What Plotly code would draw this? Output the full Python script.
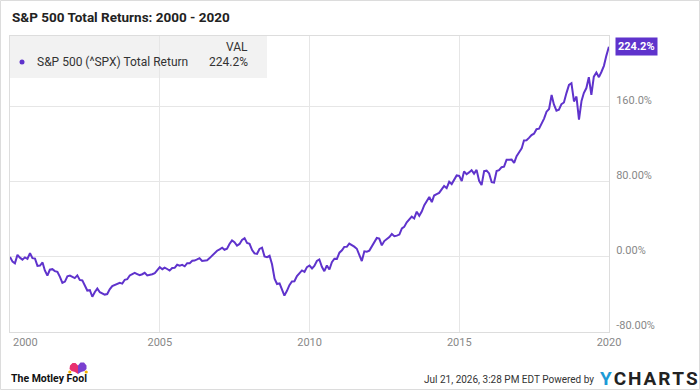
import pandas as pd
import plotly.graph_objects as go

# ---------------- data (cumulative total return, %; month ends) ----------------
START = "1999-12-31"
r1999 = [0.0]
r2000 = [-5.0, -6.8, 2.3, -0.7, -2.8, -0.4, -1.9, 4.1, -1.3, -1.7, -9.5, -9.1]
r2001 = [-5.8, -14.4, -19.8, -13.6, -13.0, -15.1, -15.9, -21.2, -27.6, -26.2, -20.6, -19.9]
r2002 = [-21.0, -22.5, -19.6, -24.4, -25.0, -30.3, -35.8, -35.4, -42.4, -37.3, -33.7, -37.6]
r2003 = [-39.2, -40.1, -39.5, -34.5, -31.1, -30.2, -29.0, -27.6, -28.4, -24.3, -23.7, -19.7]
r2004 = [-18.2, -17.0, -18.3, -19.5, -18.4, -16.9, -19.6, -19.3, -18.4, -17.2, -13.9, -10.9]
r2005 = [-13.0, -11.3, -12.8, -14.5, -11.8, -11.6, -8.3, -9.2, -8.4, -9.9, -6.6, -6.6]
r2006 = [-4.0, -3.8, -2.6, -1.3, -4.2, -4.0, -3.4, -1.2, 1.4, 4.8, 6.7, 8.2]
r2007 = [9.9, 7.7, 8.9, 13.8, 17.7, 15.8, 12.2, 13.9, 18.1, 20.1, 14.9, 14.1]
r2008 = [7.4, 3.8, 3.4, 8.6, 9.9, 0.7, -0.1, 1.3, -7.7, -23.2, -28.8, -28.1]
r2009 = [-34.1, -41.2, -36.1, -30.0, -26.1, -25.9, -20.3, -17.4, -14.3, -15.8, -10.8, -9.1]
r2010 = [-12.3, -9.6, -4.2, -2.6, -10.4, -15.1, -9.1, -13.3, -5.5, -1.9, -2.0, 4.6]
r2011 = [7.2, 10.8, 10.9, 14.2, 12.9, 11.0, 8.8, 2.8, -4.4, 6.1, 5.7, 6.8]
r2012 = [11.7, 16.5, 20.3, 19.6, 12.4, 17.0, 18.7, 21.3, 24.5, 22.2, 22.8, 23.9]
r2013 = [30.4, 32.1, 37.1, 39.8, 43.0, 41.1, 48.3, 43.9, 48.5, 55.3, 60.0, 64.0]
r2014 = [58.5, 65.6, 67.0, 68.4, 72.2, 75.8, 73.4, 80.2, 77.8, 82.2, 87.0, 86.5]
r2015 = [81.0, 91.3, 88.3, 90.2, 92.6, 88.9, 92.9, 81.2, 76.7, 91.7, 92.1, 89.1]
r2016 = [79.8, 79.4, 91.6, 92.5, 95.8, 96.3, 103.7, 103.8, 103.9, 100.3, 107.5, 111.7]
r2017 = [115.8, 124.3, 124.5, 127.0, 130.0, 131.5, 136.3, 136.8, 141.8, 147.6, 155.0, 157.9]
r2018 = [172.8, 162.7, 156.0, 157.1, 163.1, 164.8, 174.8, 183.6, 185.3, 165.9, 171.1, 146.6]
r2019 = [166.5, 174.9, 180.2, 191.8, 173.0, 192.3, 196.7, 191.8, 197.3, 203.9, 214.8, 224.2]

values = (r1999 + r2000 + r2001 + r2002 + r2003 + r2004 + r2005 + r2006 + r2007
          + r2008 + r2009 + r2010 + r2011 + r2012 + r2013 + r2014 + r2015
          + r2016 + r2017 + r2018 + r2019)
dates = pd.date_range(START, periods=len(values), freq="ME")

x_tick_vals = ["2005-01-01", "2010-01-01", "2015-01-01", "2020-01-01"]
x_tick_text = ["2005", "2010", "2015", "2020"]
y_tick_vals = [-80, 0, 80, 160]
y_tick_text = ["-80.00%", "0.00%", "80.00%", "160.0%"]

series_name = "S&P 500 (^SPX) Total Return"
title_text = "S&P 500 Total Returns: 2000 - 2020"
last_label = f"{values[-1]:.1f}%"

# ---------------- style / layout ----------------
W, H = 700, 392
PL, PR, PT, PB = 10, 609, 36, 332
PURPLE = "#5f33cc"
FONT = "Roboto"


def fx(px):
    return (px - PL) / (PR - PL)


def fy(py):
    return (PB - py) / (PB - PT)


fig = go.Figure()
fig.add_trace(go.Scatter(x=dates, y=values, mode="lines",
                         line=dict(color=PURPLE, width=2), name=series_name,
                         hoverinfo="skip"))

shapes = []
# outer border
shapes.append(dict(type="rect", xref="paper", yref="paper",
                   x0=fx(0.5), x1=fx(W - 0.5), y0=fy(389.5), y1=fy(0.5),
                   line=dict(color="#dcdcdc", width=1), fillcolor="rgba(0,0,0,0)",
                   layer="above"))
# legend box
shapes.append(dict(type="rect", xref="paper", yref="paper",
                   x0=fx(PL), x1=fx(267), y0=fy(78), y1=fy(PT),
                   line=dict(width=0), fillcolor="rgba(238,238,238,0.75)",
                   layer="between"))
# legend dot
shapes.append(dict(type="circle", xref="paper", yref="paper",
                   x0=fx(19.5), x1=fx(24.5), y0=fy(64.5), y1=fy(59.5),
                   line=dict(width=0), fillcolor=PURPLE, layer="above"))
# tag arrow at last value
shapes.append(dict(type="path", xref="x", yref="y",
                   xsizemode="pixel", ysizemode="pixel",
                   xanchor=dates[-1], yanchor=values[-1],
                   path="M 0,0 L 7,7 L 7,-7 Z",
                   line=dict(width=0), fillcolor=PURPLE, layer="above"))


def px_path(points):
    return "M " + " L ".join(f"{fx(a)},{fy(b)}" for a, b in points) + " Z"


# Motley Fool jester hat (decorative)
shapes.append(dict(type="path", xref="paper", yref="paper",
                   path=px_path([(78, 374), (75, 372), (71.5, 371), (69.5, 369),
                                 (70, 365.5), (72.5, 363), (75.5, 363), (78, 365.5)]),
                   line=dict(width=0), fillcolor="#e8306f", layer="above"))
shapes.append(dict(type="path", xref="paper", yref="paper",
                   path=px_path([(78, 374), (78, 365.5), (80.5, 362.5), (84, 362.5),
                                 (86.5, 365.5), (86.5, 369), (84.5, 371), (81, 372)]),
                   line=dict(width=0), fillcolor="#7a3fd0", layer="above"))
for cx in (69.8, 86.2):
    shapes.append(dict(type="circle", xref="paper", yref="paper",
                       x0=fx(cx - 1.6), x1=fx(cx + 1.6), y0=fy(373.6), y1=fy(370.4),
                       line=dict(width=0), fillcolor="#f4b400", layer="above"))

ann = []
ann.append(dict(xref="paper", yref="paper", x=fx(10), y=fy(17),
                xanchor="left", yanchor="middle", showarrow=False,
                text=f"<b>{title_text}</b>",
                font=dict(family=FONT, size=13.5, color="#222")))
ann.append(dict(xref="paper", yref="paper", x=fx(250), y=fy(47),
                xanchor="right", yanchor="middle", showarrow=False,
                text="VAL", font=dict(family=FONT, size=12, color="#333")))
ann.append(dict(xref="paper", yref="paper", x=fx(35), y=fy(62.5),
                xanchor="left", yanchor="middle", showarrow=False,
                text=series_name, font=dict(family=FONT, size=12, color="#333")))
ann.append(dict(xref="paper", yref="paper", x=fx(250), y=fy(62.5),
                xanchor="right", yanchor="middle", showarrow=False,
                text=last_label, font=dict(family=FONT, size=12, color="#333")))
# last value tag
ann.append(dict(xref="x", yref="y", x=dates[-1], y=values[-1],
                xanchor="left", yanchor="middle", xshift=6, showarrow=False,
                text=f"<b>{last_label}</b>", bgcolor=PURPLE, borderpad=2,
                font=dict(family=FONT, size=11, color="white")))
# "2000" x label (kept inside the frame)
ann.append(dict(xref="paper", yref="paper", x=fx(11), y=fy(343),
                xanchor="left", yanchor="middle", showarrow=False,
                text="2000", font=dict(family=FONT, size=11, color="#888")))
# footer
ann.append(dict(xref="paper", yref="paper", x=fx(9), y=fy(378.5),
                xanchor="left", yanchor="middle", showarrow=False,
                text="<b>The Motley Fool</b>",
                font=dict(family=FONT, size=10.5, color="#111")))
ann.append(dict(xref="paper", yref="paper", x=fx(596), y=fy(379.5),
                xanchor="right", yanchor="middle", showarrow=False,
                text="Jul 21, 2026, 3:28 PM EDT Powered by",
                font=dict(family=FONT, size=10, color="#333")))
HS = "\u200a"
ann.append(dict(xref="paper", yref="paper", x=fx(598), y=fy(378),
                xanchor="left", yanchor="middle", showarrow=False,
                text="<b><span style='color:#1d9ad6'>Y</span>" + HS + HS.join("CHARTS") + "</b>",
                font=dict(family=FONT, size=19, color="#222")))

fig.update_layout(
    width=W, height=H,
    margin=dict(l=PL, r=W - PR, t=PT, b=H - PB, pad=0),
    paper_bgcolor="white", plot_bgcolor="white",
    showlegend=False,
    font=dict(family=FONT),
    shapes=shapes, annotations=ann,
    xaxis=dict(type="date", range=["1999-12-31", "2020-01-01"],
               tickmode="array", tickvals=x_tick_vals, ticktext=x_tick_text,
               showgrid=True, gridcolor="#e6e6e6", gridwidth=1,
               showline=True, linecolor="#dddddd", linewidth=1, mirror=True,
               ticks="", zeroline=False,
               tickfont=dict(family=FONT, size=11, color="#888")),
    yaxis=dict(side="right", range=[-80, 235.7],
               tickmode="array", tickvals=y_tick_vals, ticktext=y_tick_text,
               showgrid=True, gridcolor="#e6e6e6", gridwidth=1,
               showline=True, linecolor="#dddddd", linewidth=1, mirror=True,
               ticks="", zeroline=False, ticklabelshift=-7, ticklabelstandoff=4,
               tickfont=dict(family=FONT, size=11, color="#888")),
)

fig.write_html("out.html")
